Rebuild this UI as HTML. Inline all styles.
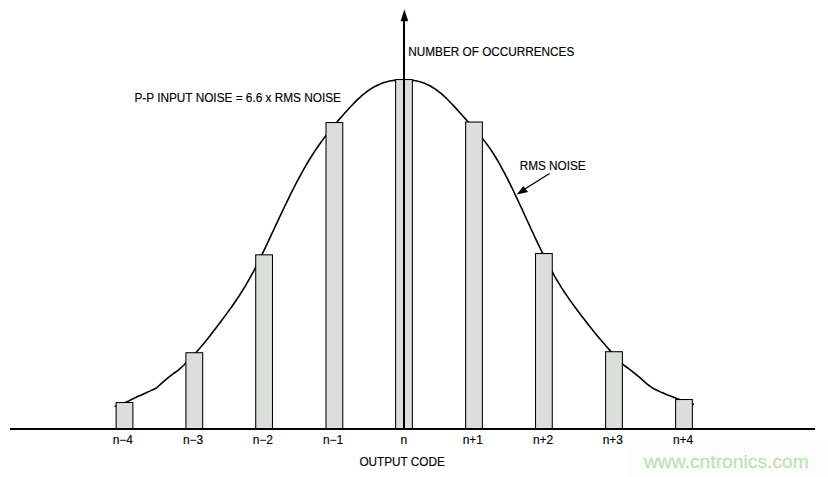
<!DOCTYPE html>
<html><head><meta charset="utf-8"><style>
html,body{margin:0;padding:0;background:#fff;}
body{width:828px;height:477px;overflow:hidden;position:relative;}
svg{position:absolute;left:0;top:0;display:block;}
text{font-family:"Liberation Sans",sans-serif;font-size:12px;fill:#000;stroke:#000;stroke-width:0.15px;}
</style></head><body>
<svg width="828" height="477" viewBox="0 0 828 477">
<rect x="628" y="447" width="200" height="30" fill="#fcfcfc"/>
<text x="643.9" y="467.7" style="font-size:19px;fill:#c2e2b8;stroke:#c2e2b8;stroke-width:0.3px" textLength="165" lengthAdjust="spacingAndGlyphs">www.cntronics.com</text>
<path d="M114.6 406.6C115.58 406.2 118.45 405.02 120.5 404.2C122.55 403.38 124.88 402.58 126.9 401.7C128.92 400.82 130.6 399.83 132.6 398.9C134.6 397.97 136.8 397.05 138.9 396.1C141 395.15 143.12 394.15 145.2 393.2C147.28 392.25 149.52 391.3 151.4 390.4C153.28 389.5 154.9 388.88 156.5 387.8C158.1 386.72 159.35 385.35 161 383.9C162.65 382.45 164.5 380.68 166.4 379.1C168.3 377.52 170.32 375.98 172.4 374.4C174.48 372.82 176.83 371.3 178.9 369.6C180.97 367.9 182.95 365.97 184.8 364.2C186.65 362.43 189.13 359.87 190 359 M192 356.86C192.5 356.33 194 354.74 195 353.65C196 352.55 197 351.43 198 350.29C199 349.15 200 347.98 201 346.8C202 345.61 203 344.41 204 343.19C205 341.97 206 340.73 207 339.48C208 338.23 209 336.96 210 335.68C211 334.41 212 333.12 213 331.82C214 330.52 215 329.21 216 327.9C217 326.59 218 325.27 219 323.95C220 322.62 221 321.3 222 319.97C223 318.63 224 317.3 225 315.95C226 314.6 227 313.25 228 311.88C229 310.51 230 309.12 231 307.72C232 306.32 233 304.9 234 303.45C235 302.01 236 300.55 237 299.06C238 297.56 239 296.05 240 294.5C241 292.95 242 291.37 243 289.76C244 288.15 245 286.5 246 284.81C247 283.13 248 281.4 249 279.63C250 277.87 251 276.05 252 274.2C253 272.35 254 270.45 255 268.53C256 266.6 257 264.63 258 262.64C259 260.65 260 258.62 261 256.58C262 254.53 263 252.46 264 250.37C265 248.29 266 246.18 267 244.06C268 241.94 269 239.81 270 237.67C271 235.53 272 233.38 273 231.24C274 229.09 275 226.94 276 224.79C277 222.65 278 220.5 279 218.37C280 216.24 281 214.12 282 212.01C283 209.9 284 207.8 285 205.72C286 203.65 287 201.58 288 199.54C289 197.49 290 195.46 291 193.46C292 191.46 293 189.47 294 187.51C295 185.55 296 183.62 297 181.71C298 179.8 299 177.92 300 176.07C301 174.22 302 172.39 303 170.6C304 168.82 305 167.06 306 165.34C307 163.62 308 161.93 309 160.28C310 158.63 311 157.02 312 155.45C313 153.87 314 152.34 315 150.84C316 149.33 317 147.87 318 146.43C319 144.99 320 143.58 321 142.2C322 140.82 323 139.47 324 138.14C325 136.81 326 135.51 327 134.22C328 132.94 329 131.68 330 130.43C331 129.19 332 127.96 333 126.75C334 125.54 335 124.34 336 123.16C337 121.97 338 120.8 339 119.64C340 118.47 341 117.32 342 116.17C343 115.03 344 113.89 345 112.77C346 111.64 347 110.53 348 109.44C349 108.35 350 107.27 351 106.21C352 105.16 353 104.12 354 103.11C355 102.09 356 101.1 357 100.14C358 99.18 359 98.24 360 97.34C361 96.43 362 95.55 363 94.71C364 93.87 365 93.06 366 92.29C367 91.52 368 90.79 369 90.09C370 89.4 371 88.75 372 88.14C373 87.52 374 86.95 375 86.42C376 85.88 377 85.39 378 84.93C379 84.47 380 84.05 381 83.66C382 83.27 383 82.91 384 82.59C385 82.26 386 81.97 387 81.71C388 81.44 389 81.21 390 81.01C391 80.8 392 80.63 393 80.47C394 80.32 395 80.2 396 80.09C397 79.99 398 79.91 399 79.85C400 79.79 401 79.76 402 79.74C403 79.72 404 79.72 405 79.74C406 79.76 407 79.8 408 79.86C409 79.93 410 80.01 411 80.11C412 80.22 413 80.35 414 80.51C415 80.67 416 80.85 417 81.07C418 81.29 419 81.53 420 81.82C421 82.1 422 82.41 423 82.76C424 83.11 425 83.49 426 83.92C427 84.34 428 84.8 429 85.31C430 85.81 431 86.36 432 86.95C433 87.54 434 88.18 435 88.86C436 89.54 437 90.27 438 91.04C439 91.81 440 92.63 441 93.48C442 94.33 443 95.22 444 96.14C445 97.06 446 98.02 447 98.99C448 99.97 449 100.98 450 102C451 103.03 452 104.08 453 105.14C454 106.2 455 107.29 456 108.38C457 109.47 458 110.57 459 111.68C460 112.79 461 113.9 462 115.02C463 116.13 464 117.25 465 118.36C466 119.47 467 120.57 468 121.68C469 122.79 470 123.89 471 125.01C472 126.13 473 127.25 474 128.39C475 129.53 476 130.67 477 131.84C478 133.01 479 134.2 480 135.41C481 136.63 482 137.86 483 139.13C484 140.4 485 141.7 486 143.04C487 144.38 488 145.75 489 147.16C490 148.58 491 150.04 492 151.55C493 153.06 494 154.62 495 156.23C496 157.84 497 159.51 498 161.22C499 162.94 500 164.71 501 166.52C502 168.32 503 170.18 504 172.07C505 173.96 506 175.9 507 177.86C508 179.83 509 181.83 510 183.85C511 185.88 512 187.94 513 190.01C514 192.09 515 194.2 516 196.31C517 198.43 518 200.57 519 202.72C520 204.86 521 207.03 522 209.2C523 211.36 524 213.54 525 215.72C526 217.89 527 220.07 528 222.25C529 224.42 530 226.6 531 228.76C532 230.92 533 233.08 534 235.23C535 237.37 536 239.51 537 241.62C538 243.73 539 245.84 540 247.91C541 249.99 542 252.05 543 254.07C544 256.1 545 258.11 546 260.08C547 262.05 548 263.99 549 265.89C550 267.8 551 269.67 552 271.5C553 273.32 554 275.11 555 276.86C556 278.6 557 280.3 558 281.96C559 283.62 560 285.23 561 286.82C562 288.4 563 289.94 564 291.46C565 292.98 566 294.46 567 295.92C568 297.38 569 298.81 570 300.22C571 301.63 572 303.02 573 304.39C574 305.77 575 307.12 576 308.46C577 309.81 578 311.14 579 312.46C580 313.79 581 315.11 582 316.42C583 317.73 584 319.04 585 320.33C586 321.63 587 322.92 588 324.2C589 325.48 590 326.75 591 328.02C592 329.28 593 330.53 594 331.77C595 333.01 596 334.24 597 335.45C598 336.67 599 337.87 600 339.06C601 340.25 602 341.42 603 342.58C604 343.74 605 344.89 606 346.02C607 347.15 608 348.26 609 349.36C610 350.45 611 351.54 612 352.6C613 353.67 614 354.72 615 355.75C616 356.78 617.5 358.29 618 358.8 M616 358.6C617.15 359.57 620.47 362.48 622.9 364.4C625.33 366.32 627.92 368.02 630.6 370.1C633.28 372.18 636.18 374.53 639 376.9C641.82 379.27 645.4 382.57 647.5 384.3C649.6 386.03 650.22 386.38 651.6 387.3C652.98 388.22 654.07 388.92 655.8 389.8C657.53 390.68 659.92 391.7 662 392.6C664.08 393.5 666.05 394.3 668.3 395.2C670.55 396.1 672.72 396.97 675.5 398C678.28 399.03 681.93 400.32 685 401.4C688.07 402.48 692.42 403.98 693.9 404.5" fill="none" stroke="#000" stroke-width="1.6" stroke-linejoin="round"/>
<g fill="#dcdedc" stroke="#000" stroke-width="1.05">
<rect x="116.12" y="402.52" width="16.75" height="26.48"/>
<rect x="185.93" y="352.72" width="16.75" height="76.28"/>
<rect x="255.72" y="254.83" width="16.75" height="174.17"/>
<rect x="326.02" y="122.53" width="16.75" height="306.48"/>
<rect x="395.62" y="79.53" width="16.75" height="349.48"/>
<rect x="465.62" y="122.03" width="16.75" height="306.98"/>
<rect x="535.52" y="253.53" width="16.75" height="175.47"/>
<rect x="605.62" y="351.72" width="16.75" height="77.28"/>
<rect x="675.62" y="399.52" width="16.75" height="29.48"/>
</g>
<line x1="10" y1="429" x2="815.1" y2="429" stroke="#000" stroke-width="2"/>
<line x1="404" y1="20" x2="404" y2="429" stroke="#000" stroke-width="2"/>
<polygon points="404.4,9.2 400.6,21.2 408.2,21.2" fill="#000"/>
<line x1="549.6" y1="173.5" x2="524" y2="189.5" stroke="#000" stroke-width="1.3"/>
<polygon points="516.8,194.4 523.3,186 528.1,191.9" fill="#000"/>
<text x="408.3" y="55.7" textLength="166" lengthAdjust="spacingAndGlyphs">NUMBER OF OCCURRENCES</text>
<text x="134.4" y="101.7" textLength="206.6" lengthAdjust="spacingAndGlyphs">P-P INPUT NOISE = 6.6 x RMS NOISE</text>
<text x="519.7" y="169.6" textLength="66" lengthAdjust="spacingAndGlyphs">RMS NOISE</text>
<text x="359.4" y="465.6" textLength="85.5" lengthAdjust="spacingAndGlyphs">OUTPUT CODE</text>
<text x="112.7" y="443.9">n−4</text>
<text x="182.9" y="443.9">n−3</text>
<text x="252.7" y="443.9">n−2</text>
<text x="322.9" y="443.9">n−1</text>
<text x="400.4" y="443.9">n</text>
<text x="462.7" y="443.9">n+1</text>
<text x="532.9" y="443.9">n+2</text>
<text x="602.7" y="443.9">n+3</text>
<text x="672.9" y="443.9">n+4</text>
</svg>
</body></html>
